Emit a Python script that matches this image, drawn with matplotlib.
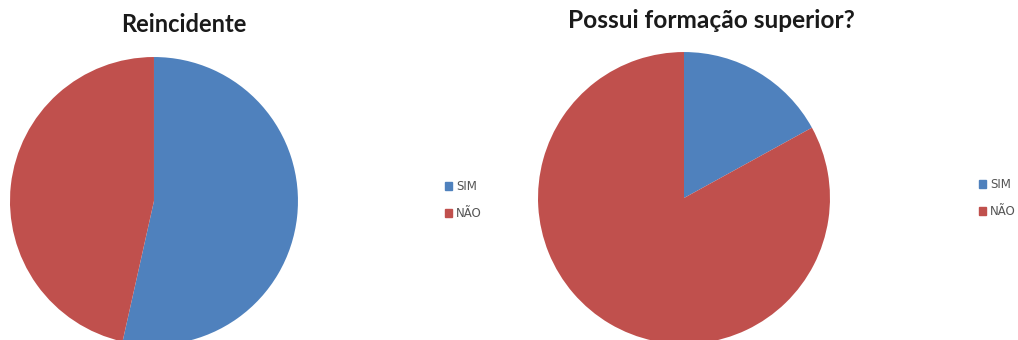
import matplotlib
matplotlib.use('Agg')
import matplotlib.pyplot as plt
from matplotlib.patches import Patch

# data
labels = ['SIM', 'NÃO']
reincidente = [53.5, 46.5]
formacao = [17, 83]
colors = ['#4F81BD', '#C0504D']

fig = plt.figure(figsize=(10.18, 3.4), dpi=100)

def draw_pie(rect, values, title, title_xy, legend_xy, title_size):
    ax = fig.add_axes(rect)
    ax.pie(values, colors=colors, startangle=90, counterclock=False,
           radius=1, wedgeprops=dict(linewidth=0))
    ax.set_xlim(-1, 1)
    ax.set_ylim(-1, 1)
    ax.set_aspect('equal')
    ax.axis('off')
    fig.text(title_xy[0], title_xy[1], title, ha='center', va='center',
             fontsize=title_size, fontweight='bold', family='Lato', color='#1a1a1a')
    handles = [Patch(color=c, label=l) for c, l in zip(colors, labels)]
    fig.legend(handles=handles, loc='center left', bbox_to_anchor=legend_xy,
               frameon=False, fontsize=8.5, handlelength=0.65, handleheight=0.65,
               handletextpad=0.3, labelspacing=1.15, labelcolor='#555555')

draw_pie([0.0098, -0.0147, 0.2829, 0.847], reincidente, 'Reincidente',
         (184 / 1018, 1 - 25 / 340), (434 / 1018, 1 - 200 / 340), 17)
draw_pie([0.5285, -0.0118, 0.2868, 0.8588], formacao, 'Possui formação superior?',
         (711 / 1018, 1 - 21 / 340), (968 / 1018, 1 - 198 / 340), 17.6)

fig.savefig('out.png', dpi=100)
